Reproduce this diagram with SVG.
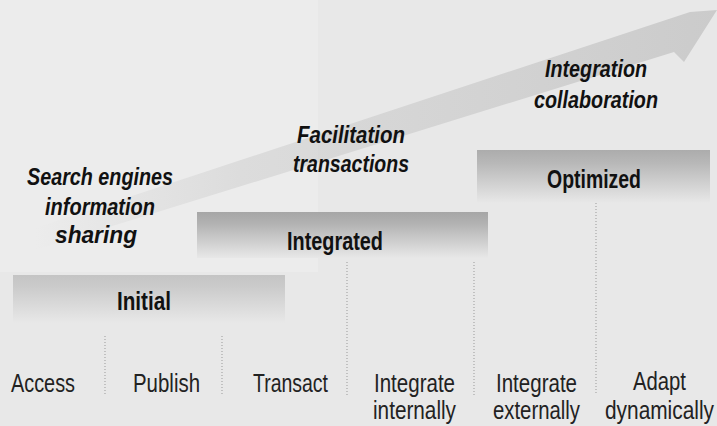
<svg xmlns="http://www.w3.org/2000/svg" width="717" height="426" viewBox="0 0 717 426">
<defs>
<style>
.bold{font-family:"Liberation Sans",Arial,sans-serif;font-weight:bold;font-size:25px;fill:#111}
.ital{font-family:"Liberation Sans",Arial,sans-serif;font-weight:bold;font-style:italic;font-size:24px;fill:#111}
.reg{font-family:"Liberation Sans",Arial,sans-serif;font-size:26px;fill:#222}
.div{stroke:#999;stroke-width:1;stroke-dasharray:1 2;fill:none}
</style>
<linearGradient id="arrowGrad" x1="35" y1="0" x2="717" y2="0" gradientUnits="userSpaceOnUse">
<stop offset="0" stop-color="#cccccc" stop-opacity="0"/>
<stop offset="0.3" stop-color="#cccccc" stop-opacity="0.5"/>
<stop offset="1" stop-color="#c6c6c6" stop-opacity="0.85"/>
</linearGradient>
<linearGradient id="barInit" x1="0" y1="0" x2="0" y2="1">
<stop offset="0" stop-color="#c4c4c4"/>
<stop offset="0.25" stop-color="#cbcbcb"/>
<stop offset="1" stop-color="#e8e8e8"/>
</linearGradient>
<linearGradient id="barInt" x1="0" y1="0" x2="0" y2="1">
<stop offset="0" stop-color="#a6a6a6"/>
<stop offset="0.25" stop-color="#b2b2b2"/>
<stop offset="1" stop-color="#e8e8e8"/>
</linearGradient>
<linearGradient id="barOpt" x1="0" y1="0" x2="0" y2="1">
<stop offset="0" stop-color="#acacac"/>
<stop offset="0.25" stop-color="#b8b8b8"/>
<stop offset="1" stop-color="#e8e8e8"/>
</linearGradient>
</defs>
<rect x="0" y="0" width="717" height="426" fill="#e8e8e8"/>
<rect x="0" y="0" width="318" height="272" fill="#ececec"/>

<g id="connectors">
<polygon points="35,228 690,12 717,10 684,62 674,52 35,250" fill="url(#arrowGrad)"/>
</g>

<g id="dividers">
<line class="div" x1="105" y1="336" x2="105" y2="395"/>
<line class="div" x1="222" y1="336" x2="222" y2="395"/>
<line class="div" x1="347" y1="262" x2="347" y2="395"/>
<line class="div" x1="474" y1="262" x2="474" y2="395"/>
<line class="div" x1="596" y1="200" x2="596" y2="395"/>
</g>

<g id="initial">
<rect x="13" y="275" width="272" height="48" fill="url(#barInit)"/>
<text class="bold" x="117" y="310" textLength="54" lengthAdjust="spacingAndGlyphs">Initial</text>
</g>
<g id="integrated">
<rect x="197" y="212" width="291" height="46" fill="url(#barInt)"/>
<text class="bold" x="287" y="250" textLength="96" lengthAdjust="spacingAndGlyphs">Integrated</text>
</g>
<g id="optimized">
<rect x="477" y="150" width="233" height="53" fill="url(#barOpt)"/>
<text class="bold" x="547" y="188" textLength="94" lengthAdjust="spacingAndGlyphs">Optimized</text>
</g>

<g id="label-search">
<text class="ital" x="27" y="185" textLength="146" lengthAdjust="spacingAndGlyphs">Search engines</text>
<text class="ital" x="45" y="215" textLength="110" lengthAdjust="spacingAndGlyphs">information</text>
<text class="ital" x="55" y="243" textLength="82" lengthAdjust="spacingAndGlyphs">sharing</text>
</g>
<g id="label-facilitation">
<text class="ital" x="297" y="143" textLength="108" lengthAdjust="spacingAndGlyphs">Facilitation</text>
<text class="ital" x="293" y="172" textLength="116" lengthAdjust="spacingAndGlyphs">transactions</text>
</g>
<g id="label-integration">
<text class="ital" x="545" y="77" textLength="102" lengthAdjust="spacingAndGlyphs">Integration</text>
<text class="ital" x="534" y="108" textLength="124" lengthAdjust="spacingAndGlyphs">collaboration</text>
</g>

<g id="access"><text class="reg" x="11" y="392" textLength="64" lengthAdjust="spacingAndGlyphs">Access</text></g>
<g id="publish"><text class="reg" x="133" y="392" textLength="67" lengthAdjust="spacingAndGlyphs">Publish</text></g>
<g id="transact"><text class="reg" x="253" y="392" textLength="75" lengthAdjust="spacingAndGlyphs">Transact</text></g>
<g id="integrate-internally">
<text class="reg" x="374" y="392" textLength="81" lengthAdjust="spacingAndGlyphs">Integrate</text>
<text class="reg" x="373" y="419" textLength="83" lengthAdjust="spacingAndGlyphs">internally</text>
</g>
<g id="integrate-externally">
<text class="reg" x="496" y="392" textLength="81" lengthAdjust="spacingAndGlyphs">Integrate</text>
<text class="reg" x="493" y="419" textLength="87" lengthAdjust="spacingAndGlyphs">externally</text>
</g>
<g id="adapt-dynamically">
<text class="reg" x="633" y="390" textLength="53" lengthAdjust="spacingAndGlyphs">Adapt</text>
<text class="reg" x="605" y="419" textLength="109" lengthAdjust="spacingAndGlyphs">dynamically</text>
</g>
</svg>
